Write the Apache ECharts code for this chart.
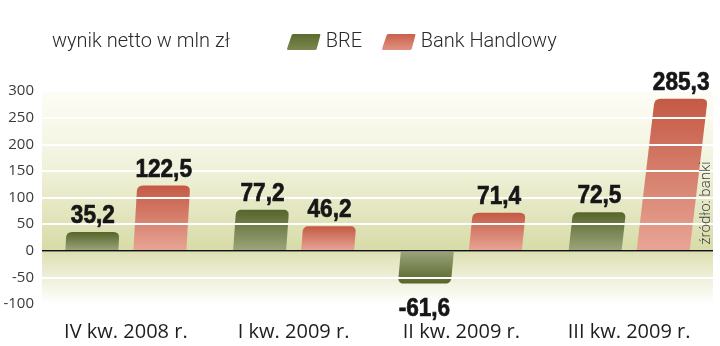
<!DOCTYPE html>
<html>
<head>
<meta charset="utf-8">
<script src="https://cdn.jsdelivr.net/npm/echarts@6/dist/echarts.min.js"></script>
<style>
html,body{margin:0;padding:0;background:#fff;}
#c{width:720px;height:346px;}
</style>
</head>
<body>
<div id="c"></div>
<script>
const categories = ['IV kw. 2008 r.', 'I kw. 2009 r.', 'II kw. 2009 r.', 'III kw. 2009 r.'];
const breValues = [35.2, 77.2, -61.6, 72.5];
const handlowyValues = [122.5, 46.2, 71.4, 285.3];
const yTicks = { min: -100, max: 300, interval: 50 };
const seriesNames = ['BRE', 'Bank Handlowy'];

const chart = echarts.init(document.getElementById('c'), null, { renderer: 'canvas' });

const BAR_W = 53;
const OFFSET = 34;
const R = 6;

function fmt(v) { return String(v).replace('.', ','); }

function slantFor(x) { return 0.05 + 0.00012 * (x - 90); }

function barPoints(xb, y0, y1) {
  const k = slantFor(xb);
  const h = y0 - y1;
  const dx = k * h;
  const bl = [xb - BAR_W / 2, y0], br = [xb + BAR_W / 2, y0];
  const tr = [xb + BAR_W / 2 + dx, y1], tl = [xb - BAR_W / 2 + dx, y1];
  const len = Math.sqrt(dx * dx + h * h) || 1;
  const r = Math.min(R, Math.abs(h) / 2);
  const ux = -dx / len, uy = h / len;
  function quad(p0, c, p2, n) {
    const pts = [];
    for (let i = 0; i <= n; i++) {
      const t = i / n;
      pts.push([
        (1 - t) * (1 - t) * p0[0] + 2 * (1 - t) * t * c[0] + t * t * p2[0],
        (1 - t) * (1 - t) * p0[1] + 2 * (1 - t) * t * c[1] + t * t * p2[1]
      ]);
    }
    return pts;
  }
  const pts = [bl, br];
  const trA = [tr[0] + ux * r, tr[1] + uy * r];
  const trB = [tr[0] - r, tr[1]];
  const tlA = [tl[0] + r, tl[1]];
  const tlB = [tl[0] + ux * r, tl[1] + uy * r];
  pts.push(...quad(trA, tr, trB, 6));
  pts.push(...quad(tlA, tl, tlB, 6));
  return pts;
}

function makeBarSeries(name, values, sign, farColor, baseColor) {
  return {
    name: name,
    type: 'custom',
    z: 1,
    data: values.map((v, i) => [i, v]),
    encode: { x: 0, y: 1 },
    renderItem: function (params, api) {
      const i = api.value(0), v = api.value(1);
      const base = api.coord([i, 0]);
      const far = api.coord([i, v]);
      const xb = base[0] + sign * OFFSET;
      const pts = barPoints(xb, base[1], far[1]);
      const positive = v >= 0;
      return {
        type: 'polygon',
        shape: { points: pts },
        style: {
          fill: new echarts.graphic.LinearGradient(0, 0, 0, 1, positive ? [
            { offset: 0, color: farColor }, { offset: 1, color: baseColor }
          ] : [
            { offset: 0, color: baseColor }, { offset: 1, color: farColor }
          ])
        }
      };
    }
  };
}

function makeLabelSeries(values, sign) {
  return {
    type: 'custom',
    z: 5,
    silent: true,
    data: values.map((v, i) => [i, v]),
    encode: { x: 0, y: 1 },
    renderItem: function (params, api) {
      const i = api.value(0), v = api.value(1);
      const base = api.coord([i, 0]);
      const far = api.coord([i, v]);
      const xb = base[0] + sign * OFFSET;
      const h = base[1] - far[1];
      const xf = xb + slantFor(xb) * h;
      const positive = v >= 0;
      return {
        type: 'text',
        x: xf,
        y: positive ? far[1] - 3 : far[1] + 12,
        scaleX: 0.87,
        style: {
          text: fmt(v),
          x: 0, y: 0,
          textAlign: 'center',
          textVerticalAlign: positive ? 'bottom' : 'top',
          fill: '#161616',
          stroke: '#161616',
          lineWidth: 0.7,
          font: 'bold 26px "Liberation Sans", Arial, sans-serif'
        }
      };
    }
  };
}

const option = {
  animation: false,
  backgroundColor: '#ffffff',
  title: {
    text: 'wynik netto w mln zł',
    left: 47,
    top: 27,
    textStyle: { fontFamily: 'Roboto', fontWeight: 300, fontSize: 20, color: '#2a2a2a' }
  },
  legend: {
    left: 282,
    top: 27,
    itemWidth: 34,
    itemHeight: 16,
    itemGap: 20,
    textStyle: { fontFamily: 'Roboto', fontWeight: 300, fontSize: 20, color: '#2a2a2a' },
    data: [
      { name: seriesNames[0], icon: 'path://M5,1 Q5.5,0 7,0 L33,0 Q34,0 33.6,1.5 L30,15 Q29.6,16 28,16 L1.5,16 Q0,16 0.4,14.5 Z',
        itemStyle: { color: new echarts.graphic.LinearGradient(0, 0, 0, 1, [{ offset: 0, color: '#5c6b2e' }, { offset: 1, color: '#7b884f' }]) } },
      { name: seriesNames[1], icon: 'path://M5,1 Q5.5,0 7,0 L33,0 Q34,0 33.6,1.5 L30,15 Q29.6,16 28,16 L1.5,16 Q0,16 0.4,14.5 Z',
        itemStyle: { color: new echarts.graphic.LinearGradient(0, 0, 0, 1, [{ offset: 0, color: '#c9604b' }, { offset: 1, color: '#e19282' }]) } }
    ]
  },
  grid: {
    left: 42, right: 7, top: 91, bottom: 42,
    show: true,
    borderWidth: 0,
    backgroundColor: new echarts.graphic.LinearGradient(0, 0, 0, 1, [
      { offset: 0, color: '#fdfdf6' },
      { offset: 0.35, color: '#f1f2dc' },
      { offset: 0.74, color: '#d8dca8' },
      { offset: 0.77, color: '#e0e3b8' },
      { offset: 0.9, color: '#f1f2df' },
      { offset: 1, color: '#ffffff' }
    ])
  },
  xAxis: {
    type: 'category',
    data: categories,
    axisLine: { show: false, onZero: false },
    axisTick: { show: false },
    splitLine: { show: false },
    axisLabel: { fontFamily: 'Open Sans', fontSize: 20, color: '#1e1e1e', margin: 18 }
  },
  yAxis: {
    type: 'value',
    min: yTicks.min, max: yTicks.max, interval: yTicks.interval,
    z: 2,
    axisLine: { show: false },
    axisTick: { show: false },
    axisLabel: { fontFamily: 'Open Sans', fontSize: 15, color: '#3a3a3a', margin: 8 },
    splitLine: { show: true, lineStyle: { color: '#ffffff', width: 2 } }
  },
  graphic: [
    {
      type: 'text',
      x: 706, y: 203,
      rotation: Math.PI / 2,
      style: {
        text: 'źródło: banki',
        textAlign: 'center',
        textVerticalAlign: 'middle',
        fill: '#444',
        font: '300 15px Roboto'
      },
      z: 10
    }
  ],
  series: [
    makeBarSeries(seriesNames[0], breValues, -1, '#56652a', '#9ca57c'),
    makeBarSeries(seriesNames[1], handlowyValues, 1, '#c45a45', '#e8a596'),
    {
      type: 'custom',
      z: 3,
      silent: true,
      data: [[0, 0]],
      encode: { x: 0, y: 1 },
      renderItem: function (params, api) {
        const cs = params.coordSys;
        const y = api.coord([0, 0])[1];
        return {
          type: 'line',
          shape: { x1: cs.x, y1: y, x2: cs.x + cs.width, y2: y },
          style: { stroke: '#111', lineWidth: 1.6 }
        };
      }
    },
    makeLabelSeries(breValues, -1),
    makeLabelSeries(handlowyValues, 1)
  ]
};

chart.setOption(option);
</script>
</body>
</html>
